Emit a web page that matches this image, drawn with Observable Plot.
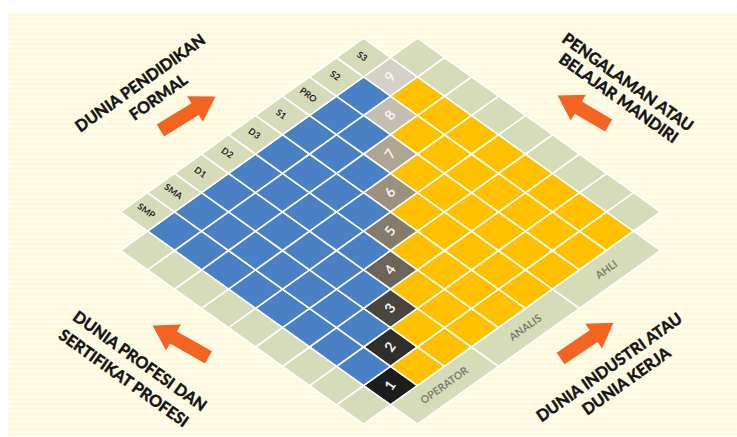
<!DOCTYPE html>
<html>
<head>
<meta charset="utf-8">
<script src="https://cdn.jsdelivr.net/npm/d3@7"></script>
<script src="https://cdn.jsdelivr.net/npm/@observablehq/plot@0.6"></script>
<style>
  html, body { margin: 0; padding: 0; background: #ffffff; }
  svg { display: block; }
</style>
</head>
<body>
<div id="chart"></div>
<script>
// ---------- data ----------
const levels = [1, 2, 3, 4, 5, 6, 7, 8, 9];
const levelColors = ["#1c1c1c", "#312d29", "#4a443e", "#6b645a", "#847b6b", "#9a917f", "#aea595", "#c3bdb2", "#d5d1c8"];
const eduLabels = ["SMP", "SMA", "D1", "D2", "D3", "S1", "PRO", "S2", "S3"];
const jobLabels = ["OPERATOR", "ANALIS", "AHLI"];
const titleTexts = ["DUNIA PENDIDIKAN", "FORMAL", "PENGALAMAN ATAU", "BELAJAR MANDIRI",
                    "DUNIA PROFESI DAN", "SERTIFIKAT PROFESI", "DUNIA INDUSTRI ATAU", "DUNIA KERJA"];
// anchor of each title line, in grid units (u = up-right, v = up-left)
const titleU = [4.70, 4.67, 13.74, 13.16, -2.52, -3.26, 6.02, 5.98];
const titleV = [13.96, 13.26, 4.96, 4.72, 6.77, 6.63, -2.09, -2.76];
const titleDir = [-1, -1, 1, 1, 1, 1, -1, -1];
// arrows: tail -> head in grid units
const arrowTailU = [3.85, 12.28, -1.14, 5.35];
const arrowTailV = [12.37, 4.20, 5.60, -0.95];
const arrowHeadU = [5.75, 12.11, -1.35, 7.26];
const arrowHeadV = [12.23, 5.92, 7.46, -1.00];

// ---------- layout ----------
const W = 737, H = 437;
const KX = 27, KY = 19.3, OX = 390, OY = 443;
const ANG = Math.atan2(KY, KX) * 180 / Math.PI;
const BLUE = "#4a81c6", GOLD = "#ffc000", GREEN = "#d7dcb8", ORANGE = "#f2641f";

const toPx = (u, v) => [OX + KX * (u - v), OY - KY * (u + v)];
const fromPx = ([x, y]) => ({h: (x - OX) / KX, s: (OY - y) / KY});

const polys = [];
function addQuad(id, u0, v0, u1, v1, fill) {
  [[u0, v0], [u1, v0], [u1, v1], [u0, v1]].forEach(([u, v]) =>
    polys.push({id, h: u - v, s: u + v, fill}));
}
// level column
levels.forEach((k, i) => addQuad("L" + k, k, k, k + 1, k + 1, levelColors[i]));
// blue (education side) and gold (work side)
for (let u = 1; u <= 8; u++) for (let v = u + 1; v <= 9; v++) addQuad(`B${u}_${v}`, u, v, u + 1, v + 1, BLUE);
for (let v = 1; v <= 8; v++) for (let u = v + 1; u <= 9; u++) addQuad(`Y${u}_${v}`, u, v, u + 1, v + 1, GOLD);
// green strips
eduLabels.forEach((_, i) => addQuad("E" + i, i + 1, 10, i + 2, 11, GREEN));
levels.forEach((k) => addQuad("P" + k, 0, k, 1, k + 1, GREEN));
levels.forEach((k) => addQuad("X" + k, 10, k, 11, k + 1, GREEN));
jobLabels.forEach((_, i) => addQuad("J" + i, 1 + 3 * i, 0, 4 + 3 * i, 1, GREEN));

// halo
const halo = [[-0.2, -0.2], [11.2, -0.2], [11.2, 11.2], [-0.2, 11.2]].map(([u, v]) => ({h: u - v, s: u + v}));

// arrows as block polygons (built in pixel space, converted back to grid)
const arrowPts = [];
arrowTailU.forEach((_, i) => {
  const T = toPx(arrowTailU[i], arrowTailV[i]);
  const Hd = toPx(arrowHeadU[i], arrowHeadV[i]);
  const dx = Hd[0] - T[0], dy = Hd[1] - T[1], len = Math.hypot(dx, dy);
  const d = [dx / len, dy / len], n = [-d[1], d[0]];
  const w1 = 7, w2 = 15, L = 24;
  const B = [Hd[0] - d[0] * L, Hd[1] - d[1] * L];
  const pts = [
    [T[0] + n[0] * w1, T[1] + n[1] * w1],
    [B[0] + n[0] * w1, B[1] + n[1] * w1],
    [B[0] + n[0] * w2, B[1] + n[1] * w2],
    Hd,
    [B[0] - n[0] * w2, B[1] - n[1] * w2],
    [B[0] - n[0] * w1, B[1] - n[1] * w1],
    [T[0] - n[0] * w1, T[1] - n[1] * w1]
  ];
  pts.forEach(p => arrowPts.push({id: i, ...fromPx(p)}));
});

const eduText = eduLabels.map((t, i) => ({t, h: (i + 1.5) - 10.55, s: (i + 1.5) + 10.55}));
const levelText = levels.map(k => ({t: String(k), h: 0, s: 2 * k + 1}));
const jobText = jobLabels.map((t, i) => ({t, h: (2.5 + 3 * i) - 0.5, s: (2.5 + 3 * i) + 0.5}));
const titles = titleTexts.map((t, i) => ({t, h: titleU[i] - titleV[i], s: titleU[i] + titleV[i], r: titleDir[i] * ANG}));

const chart = Plot.plot({
  width: W, height: H,
  margin: 0,
  x: {domain: [(0 - OX) / KX, (W - OX) / KX], axis: null},
  y: {domain: [(OY - H) / KY, OY / KY], axis: null},
  color: {type: "identity"},
  style: {background: "#ffffff", overflow: "hidden"},
  marks: [
    Plot.frame({fill: "#fdfbe3", stroke: null, insetTop: 13, insetLeft: 8, ariaLabel: "bg"}),
    Plot.line(halo, {x: "h", y: "s", fill: "#ffffff", stroke: "#ffffff", strokeWidth: 16, curve: "linear-closed", ariaLabel: "halo"}),
    Plot.line(polys, {x: "h", y: "s", z: "id", fill: "fill", stroke: "#ffffff", strokeWidth: 1.6, strokeLinejoin: "miter", curve: "linear-closed"}),
    Plot.line(arrowPts, {x: "h", y: "s", z: "id", fill: ORANGE, stroke: "none", curve: "linear-closed"}),
    Plot.text(eduText, {x: "h", y: "s", text: "t", rotate: ANG, fontSize: 9, fontWeight: "bold", fontFamily: "Lato", fill: "#1e1e1e"}),
    Plot.text(levelText, {x: "h", y: "s", text: "t", rotate: -55, fontSize: 14, fontWeight: "bold", fontFamily: "Lato", fill: "#f4f4f4"}),
    Plot.text(jobText, {x: "h", y: "s", text: "t", rotate: -ANG, fontSize: 10.5, fontWeight: "bold", fontFamily: "Lato", fill: "#7c7c6c"}),
    Plot.text(titles, {x: "h", y: "s", text: "t", rotate: "r", fontSize: 16, fontWeight: "bold", fontFamily: "Lato", fill: "#141414", stroke: "#141414", strokeWidth: 0.5})
  ]
});

// soft white glow behind the diamond, faint horizontal stripes on the background
const svg = d3.select(chart);
const defs = svg.insert("defs", ":first-child");
defs.append("filter").attr("id", "glow").attr("x", "-20%").attr("y", "-20%").attr("width", "140%").attr("height", "140%")
  .append("feGaussianBlur").attr("stdDeviation", 6);
const pat = defs.append("pattern").attr("id", "stripes").attr("patternUnits", "userSpaceOnUse")
  .attr("width", 10).attr("height", 5);
pat.append("rect").attr("width", 10).attr("height", 5).attr("fill", "#fcf9dc");
pat.append("rect").attr("width", 10).attr("height", 2).attr("fill", "#fffdec");
svg.select('g[aria-label="halo"]').attr("filter", "url(#glow)");
svg.selectAll('[aria-label="bg"] rect, rect[aria-label="bg"]').attr("fill", "url(#stripes)");

document.getElementById("chart").appendChild(chart);
</script>
</body>
</html>
